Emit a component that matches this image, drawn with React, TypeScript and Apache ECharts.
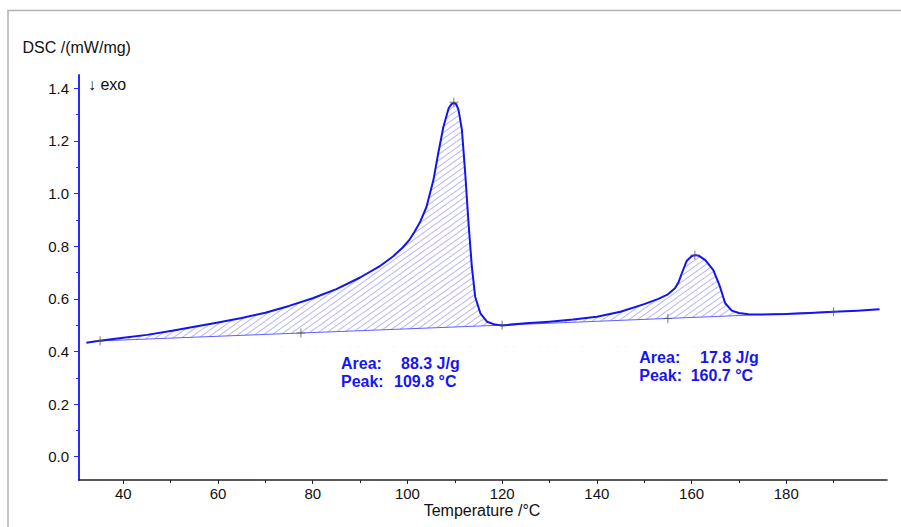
import React, { useEffect, useRef } from "react";
import * as echarts from "echarts";

// Measured DSC curve
const temperature = [
  32.2, 35, 40, 45, 50, 55, 60, 65, 70, 75, 80, 85, 90, 94, 97, 99, 100.5, 101.5, 102.7, 104,
  105.5, 106.5, 107.6, 108.7, 109.3, 109.8, 110.3, 110.8, 111.5, 112.2, 112.9, 113.6, 114.3,
  115.4, 116.8, 118.5, 120, 125, 130, 135, 140, 145, 150, 153, 155, 156.5, 157.3, 158, 159, 160,
  160.7, 161.5, 162.9, 164.6, 166, 167.1, 168.5, 170, 172, 175, 180, 185, 190, 195, 199.7,
];
const dsc = [
  0.433, 0.441, 0.452, 0.463, 0.478, 0.494, 0.51, 0.527, 0.547, 0.573, 0.602, 0.637, 0.681,
  0.722, 0.762, 0.795, 0.826, 0.855, 0.893, 0.948, 1.052, 1.153, 1.254, 1.324, 1.34, 1.345,
  1.34, 1.317, 1.242, 1.077, 0.887, 0.722, 0.608, 0.545, 0.513, 0.502, 0.499, 0.507, 0.513,
  0.521, 0.532, 0.551, 0.58, 0.6, 0.617, 0.64, 0.665, 0.7, 0.745, 0.762, 0.766, 0.764, 0.747,
  0.709, 0.646, 0.583, 0.555, 0.546, 0.541, 0.54, 0.542, 0.546, 0.551, 0.555, 0.56,
];

// Integration range (hatched area) and baselines
const areaFrom = 35;
const areaTo = 170;
const baselineT = [35, 120, 190];
const baselineV = [0.44, 0.5, 0.551];

// Evaluation markers (+)
const markerT = [35.1, 77.5, 109.8, 120, 155, 160.7, 190];
const markerV = [0.44, 0.47, 1.347, 0.5, 0.525, 0.766, 0.551];

// Peak results
const resultLabels = ["Area:", "Peak:"];
const peak1Values = ["88.3 J/g", "109.8 °C"];
const peak2Values = ["17.8 J/g", "160.7 °C"];

// Axis ticks
const xMajor = [40, 60, 80, 100, 120, 140, 160, 180];
const xMinor = [50, 70, 90, 110, 130, 150, 170, 190];
const yMajor = [0, 0.2, 0.4, 0.6, 0.8, 1.0, 1.2, 1.4];
const yMinor = [0.1, 0.3, 0.5, 0.7, 0.9, 1.1, 1.3];

const X_MIN = 30.64;
const X_MAX = 201.27;
const Y_MIN = -0.0885;
const Y_MAX = 1.4505;

const FONT = '"Liberation Sans", Arial, Helvetica, sans-serif';
const BLUE = "#1414ee";
const TEXT_BLUE = "#1616f2";

export default function App() {
  const ref = useRef<HTMLDivElement>(null);

  useEffect(() => {
    if (!ref.current) return;
    const chart = echarts.init(ref.current, null, { renderer: "svg" });

    const curve = temperature.map((t, i) => [t, dsc[i]]);
    const hatch = curve.filter(([t]) => t >= areaFrom && t <= areaTo);
    const baseline = baselineT.map((t, i) => [t, baselineV[i]]);
    const markers = markerT.map((t, i) => [t, markerV[i]]);

    const txt = (text: string, x: number, y: number, bold = true, size = 16, color = TEXT_BLUE) => ({
      type: "text",
      z: 100,
      x,
      y,
      style: {
        text,
        fill: color,
        font: `${bold ? "bold " : ""}${size}px ${FONT}`,
        align: "left",
        verticalAlign: "middle",
      },
    });

    const option: any = {
      animation: false,
      backgroundColor: "#ffffff",
      grid: { left: 79, top: 75, width: 808, height: 405, containLabel: false, outerBoundsMode: "none" },
      xAxis: [
        {
          type: "value",
          min: X_MIN,
          max: X_MAX,
          position: "bottom",
          axisLine: { show: true, onZero: false, lineStyle: { color: "#222", width: 1.5 } },
          axisTick: { show: true, customValues: xMajor, length: 4, lineStyle: { color: "#222", width: 1 } },
          axisLabel: { customValues: xMajor, fontSize: 15, color: "#111", fontFamily: FONT, margin: 6 },
          splitLine: { show: false },
        },
        {
          type: "value",
          min: X_MIN,
          max: X_MAX,
          position: "bottom",
          axisLine: { show: false, onZero: false },
          axisTick: { show: true, customValues: xMinor, length: 3, lineStyle: { color: "#222", width: 1 } },
          axisLabel: { show: false, customValues: xMinor },
          splitLine: { show: false },
        },
      ],
      yAxis: [
        {
          type: "value",
          min: Y_MIN,
          max: Y_MAX,
          position: "left",
          axisLine: { show: true, onZero: false, lineStyle: { color: "#2a2aff", width: 2 } },
          axisTick: { show: true, customValues: yMajor, length: 5, lineStyle: { color: "#2a2aff", width: 1 } },
          axisLabel: {
            customValues: yMajor,
            fontSize: 15,
            color: "#111",
            fontFamily: FONT,
            margin: 10,
            formatter: (v: number) => v.toFixed(1),
          },
          splitLine: { show: false },
        },
        {
          type: "value",
          min: Y_MIN,
          max: Y_MAX,
          position: "left",
          axisLine: { show: false, onZero: false },
          axisTick: { show: true, customValues: yMinor, length: 3, lineStyle: { color: "#2a2aff", width: 1 } },
          axisLabel: { show: false, customValues: yMinor },
          splitLine: { show: false },
        },
      ],
      series: [
        {
          name: "area",
          type: "line",
          data: hatch,
          showSymbol: false,
          silent: true,
          lineStyle: { opacity: 0, width: 0 },
          itemStyle: {
            color: BLUE,
            decal: {
              symbol: "rect",
              symbolSize: 1,
              color: "rgba(95,95,238,0.45)",
              backgroundColor: "rgba(255,255,255,0)",
              dashArrayX: [1, 0],
              dashArrayY: [1, 4],
              rotation: -0.62,
            },
          },
          areaStyle: { color: "rgba(255,255,255,0)", opacity: 1, origin: 0.42 },
          z: 2,
        },
        {
          name: "baseline",
          type: "line",
          data: baseline,
          showSymbol: false,
          silent: true,
          lineStyle: { color: "#6060ff", width: 1 },
          areaStyle: { color: "#ffffff", opacity: 1, origin: 0.42 },
          z: 3,
        },
        {
          name: "DSC",
          type: "line",
          data: curve,
          showSymbol: false,
          silent: true,
          lineStyle: { color: BLUE, width: 2, join: "round" },
          z: 4,
        },
        {
          name: "markers",
          type: "scatter",
          data: markers,
          symbol: "path://M0 5L10 5M5 0L5 10",
          symbolSize: 9,
          silent: true,
          itemStyle: { color: "rgba(0,0,0,0)", borderColor: "#555", borderWidth: 1 },
          z: 5,
        },
      ],
      graphic: [
        {
          type: "rect",
          z: 100,
          shape: { x: 8, y: 10.5, width: 1000, height: 1000 },
          style: { fill: "none", stroke: "#b2b2b2", lineWidth: 1.5 },
          silent: true,
        },
        txt("DSC /(mW/mg)", 22.5, 47.6, false, 16, "#111"),
        txt("↓ exo", 88, 84.5, false, 16, "#111"),
        {
          type: "text",
          z: 100,
          x: 482,
          y: 510.5,
          style: {
            text: "Temperature /°C",
            fill: "#111",
            font: `16px ${FONT}`,
            align: "center",
            verticalAlign: "middle",
          },
        },
        txt(resultLabels[0], 341, 363.6),
        txt(peak1Values[0], 401, 363.6),
        txt(resultLabels[1], 341, 381),
        txt(peak1Values[1], 394, 381),
        txt(resultLabels[0], 639.3, 357),
        txt(peak2Values[0], 700, 357),
        txt(resultLabels[1], 639.3, 375.3),
        txt(peak2Values[1], 690.7, 375.3),
      ],
    };

    chart.setOption(option);
    return () => chart.dispose();
  }, []);

  return (
    <div
      ref={ref}
      style={{ position: "absolute", left: 0, top: 0, width: 901, height: 527, background: "#fff" }}
    />
  );
}
